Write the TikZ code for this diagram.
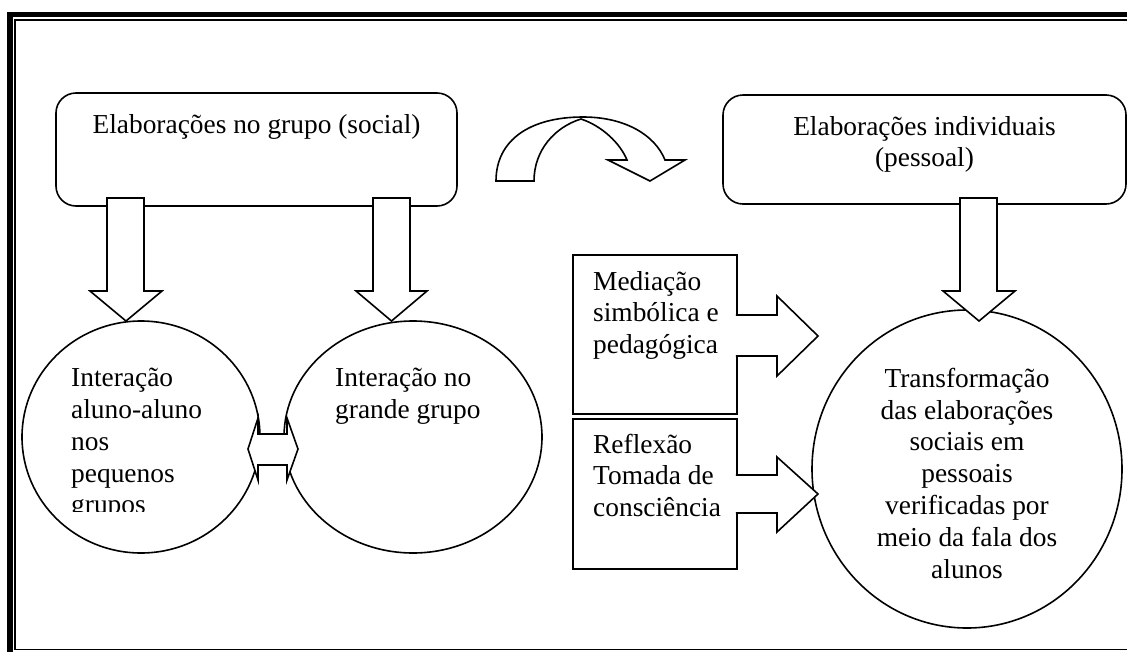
\documentclass[tikz,border=0pt]{standalone}
\usepackage{fontspec}
\setmainfont{Liberation Serif}
\usetikzlibrary{shapes.geometric}
\newcommand\leftlines[1]{\vtop{\halign{##\hfil\cr#1\crcr}}}
\newcommand\midlines[1]{\vtop{\halign{\hfil##\hfil\cr#1\crcr}}}
\tikzset{
  ln/.style={line width=1.6pt},
  rbox/.style={draw, ln, rounded corners=20pt, inner sep=0pt},
  sbox/.style={draw, ln, inner sep=0pt},
  circ/.style={draw, ln, ellipse, inner sep=0pt},
  blk/.style={draw, ln, fill=white, line join=miter},
  txt/.style={inner sep=0pt, font=\fontsize{27.4}{31.8}\selectfont},
}
\begin{document}
\begin{tikzpicture}[x=1pt,y=-1pt]
\useasboundingbox (0,0) rectangle (1127,651);
\clip (0,0) rectangle (1127,651);
\fill[white] (0,0) rectangle (1127,651);
% frame
\draw[line width=5.5pt] (10,700) -- (10,14.6) -- (1200,14.6);
\draw[line width=1.7pt] (1200,20) -- (15,20) -- (15,649.5) -- (1200,649.5);

% boxes
\node[rbox, minimum width=401pt, minimum height=113pt] (gbox) at (256.5,149.5) {};
\node[rbox, minimum width=403pt, minimum height=109pt] (ibox) at (924.5,149.5) {};
\node[sbox, minimum width=164pt, minimum height=159pt] (mbox) at (655,334.5) {};
\node[sbox, minimum width=164pt, minimum height=150pt] (rfbox) at (655,494) {};

% circles
\node[circ, minimum width=238pt, minimum height=232pt] (c1) at (141,437) {};
\node[circ, minimum width=258pt, minimum height=232pt] (c2) at (413,437) {};
\node[circ, minimum width=310pt, minimum height=318pt] (c3) at (967,469) {};

% texts
\node[txt, anchor=base] (gt) at (256.5,133) {Elaborações no grupo (social)};
\node[txt, anchor=base] (it) at (924.5,135) {\midlines{Elaborações individuais\cr (pessoal)}};
\begin{scope}
\clip (0,0) rectangle (1127,511);
\node[txt, anchor=base west] (c1t) at (71,386.7) {\leftlines{Interação\cr aluno-aluno\cr nos\cr pequenos\cr grupos}};
\end{scope}
\node[txt, anchor=base west] (c2t) at (335,386.7) {\leftlines{Interação no\cr grande grupo}};
\node[txt, anchor=base] (c3t) at (967,387.3) {\midlines{Transformação\cr das elaborações\cr sociais em\cr pessoais\cr verificadas por\cr meio da fala dos\cr alunos}};
\node[txt, anchor=base west] (mt) at (593,290) {\leftlines{Mediação\cr simbólica e\cr pedagógica}};
\node[txt, anchor=base west] (rt) at (593,453) {\leftlines{Reflexão\cr Tomada de\cr consciência}};

% down block arrows
\draw[blk] (107,198) -- (144,198) -- (144,291) -- (162,291) -- (126,321) -- (90,291) -- (107,291) -- cycle;
\draw[blk] (373,198) -- (410,198) -- (410,291) -- (427,291) -- (391.5,321) -- (356,291) -- (373,291) -- cycle;
\draw[blk] (960,198) -- (997,198) -- (997,291) -- (1015,291) -- (979,321) -- (943,291) -- (960,291) -- cycle;

% right block arrows (open on the box side)
\fill[white] (735.5,315) -- (777,315) -- (777,296) -- (818,336) -- (777,376) -- (777,356) -- (735.5,356) -- cycle;
\draw[ln, line join=miter] (735.8,315) -- (777,315) -- (777,296) -- (818,336) -- (777,376) -- (777,356) -- (735.8,356);
\fill[white] (735.5,475) -- (777,475) -- (777,457) -- (818,494) -- (777,532) -- (777,513) -- (735.5,513) -- cycle;
\draw[ln, line join=miter] (735.8,475) -- (777,475) -- (777,457) -- (818,494) -- (777,532) -- (777,513) -- (735.8,513);

% double arrow between circles
\draw[blk] (248,449) -- (258,418) -- (258,434) -- (287,434) -- (287,418) -- (298,449)
  -- (287,480) -- (287,465) -- (258,465) -- (258,480) -- cycle;

% curved arrow
\draw[blk] (496,181) .. controls (496,140) and (530,117) .. (583,117)
  .. controls (625,117) and (655,135) .. (665,160)
  -- (685,160) -- (650,181) -- (608,160) -- (627,160)
  .. controls (620,143) and (602,126) .. (581,119)
  .. controls (555,127) and (534,150) .. (534,181) -- cycle;
\end{tikzpicture}
\end{document}
